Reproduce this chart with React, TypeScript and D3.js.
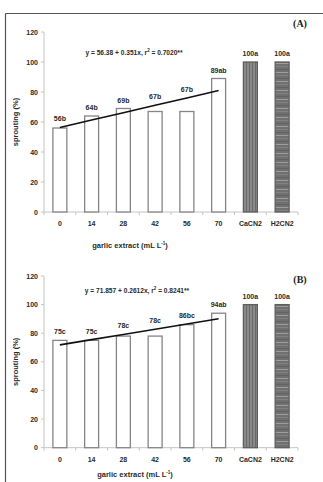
import React from "react";
import * as d3 from "d3";

// Treatments along the x axis
const categories = ["0", "14", "28", "42", "56", "70", "CaCN2", "H2CN2"];
// Garlic extract doses (mL L-1) used for the regression line
const doses = [0, 14, 28, 42, 56, 70];
// Sprouting (%) per treatment
const valuesA = [56, 64, 69, 67, 67, 89, 100, 100];
const lettersA = ["b", "b", "b", "b", "b", "ab", "a", "a"];
const valuesB = [75, 75, 78, 78, 86, 94, 100, 100];
const lettersB = ["c", "c", "c", "c", "bc", "ab", "a", "a"];
// Linear fits: y = a + b x
const fitA = { a: 56.38, b: 0.351, aText: "56.38", bText: "0.351", r2: "0.7020**" };
const fitB = { a: 71.857, b: 0.2612, aText: "71.857", bText: "0.2612", r2: "0.8241**" };
const yTicks = [0, 20, 40, 60, 80, 100, 120];

const FONT = "Liberation Sans, Arial, sans-serif";
const TXT = "#2a2a2a";

type PanelProps = {
  values: number[];
  letters: string[];
  fit: { a: number; b: number; aText: string; bText: string; r2: string };
  tag: string;
  top: number;
  bottom: number;
  eqX: number;
  eqY: number;
  tagY: number;
  titleX: number;
  titleY: number;
};

function Panel({ values, letters, fit, tag, top, bottom, eqX, eqY, tagY, titleX, titleY }: PanelProps) {
  const x = d3.scaleBand<string>().domain(categories).range([44, 298]).padding(0);
  const y = d3.scaleLinear().domain([0, 120]).range([bottom, top]);
  const barW = x.bandwidth() * 0.44;
  const cx = (c: string) => (x(c) as number) + x.bandwidth() / 2;
  const reg = (d: number) => fit.a + fit.b * d;
  const doseX = d3
    .scaleLinear()
    .domain([doses[0], doses[doses.length - 1]])
    .range([cx(categories[0]), cx(categories[doses.length - 1])]);
  const line = d3
    .line<number>()
    .x((d) => doseX(d))
    .y((d) => y(reg(d)));
  const fills = ["white", "white", "white", "white", "white", "white", "url(#vstripe)", "url(#hstripe)"];

  return (
    <g>
      {/* y axis */}
      <line x1={44} x2={44} y1={y(0)} y2={y(120)} stroke="#c4c4c4" strokeWidth={1} />
      {yTicks.map((t) => (
        <g key={t}>
          <line x1={41} x2={44} y1={y(t)} y2={y(t)} stroke="#c4c4c4" strokeWidth={1} />
          <text x={38} y={y(t) + 2.5} textAnchor="end" fontSize={7} fontWeight="bold" fontFamily={FONT} fill={TXT}>
            {t}
          </text>
        </g>
      ))}
      {/* x axis */}
      <line x1={44} x2={298} y1={y(0)} y2={y(0)} stroke="#c4c4c4" strokeWidth={1} />
      {categories.map((c) => (
        <line key={"t" + c} x1={x(c) as number} x2={x(c) as number} y1={y(0)} y2={y(0) + 3} stroke="#c4c4c4" strokeWidth={1} />
      ))}
      <line x1={298} x2={298} y1={y(0)} y2={y(0) + 3} stroke="#c4c4c4" strokeWidth={1} />
      {categories.map((c) => (
        <text key={"l" + c} x={cx(c)} y={y(0) + 14} textAnchor="middle" fontSize={7} fontWeight="bold" fontFamily={FONT} fill={TXT}>
          {c}
        </text>
      ))}
      {/* bars */}
      {values.map((v, i) => (
        <rect
          key={"b" + i}
          x={cx(categories[i]) - barW / 2}
          y={y(v)}
          width={barW}
          height={y(0) - y(v)}
          fill={fills[i]}
          stroke={i >= 6 ? "#5e5e5e" : "#858585"}
          strokeWidth={1.3}
        />
      ))}
      {/* regression */}
      <path d={line(doses) as string} fill="none" stroke="#111" strokeWidth={1.6} />
      {/* value labels sit above the bar or the fitted line, whichever is higher */}
      {values.map((v, i) => {
        const top = i < doses.length ? Math.max(v, reg(doses[i])) : v;
        return (
          <text key={"v" + i} x={cx(categories[i])} y={y(top) - 6} textAnchor="middle" fontSize={7} fontWeight="bold" fontFamily={FONT} fill={TXT}>
            {v + letters[i]}
          </text>
        );
      })}
      <text x={eqX} y={eqY} textAnchor="middle" fontSize={6.6} fontWeight="bold" fontFamily={FONT} fill={TXT}>
        {`y = ${fit.aText} + ${fit.bText}x, r`}
        <tspan fontSize={4.5} dy={-2.5}>2</tspan>
        <tspan dy={2.5}>{` = ${fit.r2}`}</tspan>
      </text>
      <text x={300} y={tagY} textAnchor="middle" fontSize={10} fontWeight="bold" fontFamily="Liberation Serif, Times New Roman, serif" fill="#222">
        {tag}
      </text>
      <text
        transform={`translate(18,${(y(0) + y(120)) / 2}) rotate(-90)`}
        textAnchor="middle"
        fontSize={7.5}
        fontWeight="bold"
        fontFamily={FONT}
        fill={TXT}
      >
        sprouting (%)
      </text>
      <text x={titleX} y={titleY} textAnchor="middle" fontSize={7.5} fontWeight="bold" fontFamily={FONT} fill={TXT}>
        garlic extract (mL L
        <tspan fontSize={4.5} dy={-3}>-1</tspan>
        <tspan dy={3}>)</tspan>
      </text>
    </g>
  );
}

export default function App() {
  return (
    <svg width={323} height={482} style={{ position: "absolute", left: 0, top: 0, background: "white" }}>
      <defs>
        <pattern id="vstripe" patternUnits="userSpaceOnUse" width={3} height={10}>
          <rect width={3} height={10} fill="#8a8a8a" />
          <rect x={0} width={1} height={10} fill="#6a6a6a" />
        </pattern>
        <pattern id="hstripe" patternUnits="userSpaceOnUse" width={10} height={9}>
          <rect width={10} height={9} fill="#707070" />
          <rect y={0} width={10} height={0.8} fill="#a8a8a8" />
          <rect y={3} width={10} height={0.6} fill="#8c8c8c" />
          <rect y={6} width={10} height={0.7} fill="#5c5c5c" />
        </pattern>
      </defs>
      <rect width={323} height={482} fill="white" />
      {/* frame */}
      <line x1={5.5} x2={323} y1={13.5} y2={13.5} stroke="#555" strokeWidth={1.2} />
      <line x1={5.5} x2={5.5} y1={13.5} y2={482} stroke="#555" strokeWidth={1.2} />
      <Panel
        values={valuesA}
        letters={lettersA}
        fit={fitA}
        tag="(A)"
        top={32}
        bottom={212}
        eqX={134}
        eqY={54.5}
        tagY={27}
        titleX={130}
        titleY={248}
      />
      <Panel
        values={valuesB}
        letters={lettersB}
        fit={fitB}
        tag="(B)"
        top={276}
        bottom={447.7}
        eqX={137}
        eqY={292.5}
        tagY={283}
        titleX={135}
        titleY={477}
      />
    </svg>
  );
}
